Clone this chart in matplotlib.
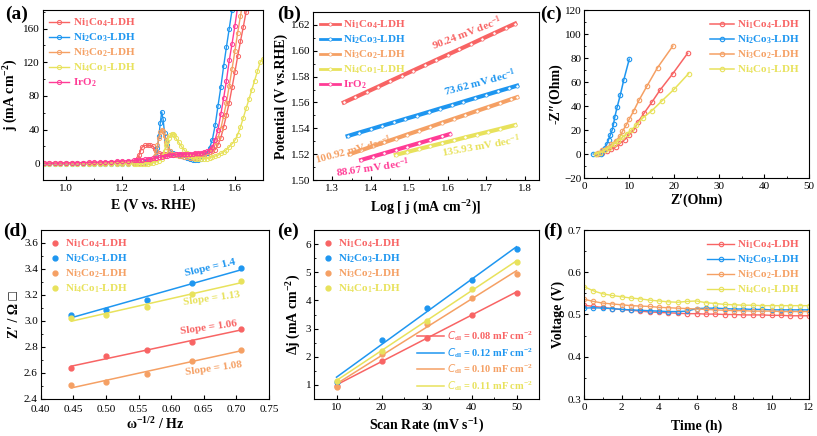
import matplotlib
matplotlib.use("Agg")
import matplotlib.pyplot as plt
import numpy as np
from matplotlib.ticker import MultipleLocator

plt.rcParams.update({
    "font.family": ["Liberation Serif", "DejaVu Sans"],
    "font.size": 8,
    "mathtext.default": "regular",
    "xtick.direction": "in",
    "ytick.direction": "in",
    "xtick.major.size": 3,
    "ytick.major.size": 3,
    "xtick.minor.size": 1.6,
    "ytick.minor.size": 1.6,
    "axes.linewidth": 0.8,
})

RED = "#F86464"
BLUE = "#1E96F0"
ORANGE = "#F5A064"
YELLOW = "#E8E25C"
PINK = "#FF3C96"

names4 = ["Ni$_1$Co$_4$-LDH", "Ni$_2$Co$_3$-LDH", "Ni$_3$Co$_2$-LDH", "Ni$_4$Co$_1$-LDH"]
colors4 = [RED, BLUE, ORANGE, YELLOW]

# ---- (a) LSV curves ----
flat_E = [0.92, 0.94, 0.96, 0.98, 1.00, 1.02, 1.04, 1.06, 1.08, 1.10, 1.12, 1.14, 1.16, 1.18, 1.20, 1.22, 1.24]

E_red = flat_E + [1.25, 1.255, 1.26, 1.265, 1.27, 1.28, 1.29, 1.30, 1.31, 1.315, 1.32, 1.33, 1.34, 1.35, 1.36,
                  1.37, 1.38, 1.39, 1.40, 1.41, 1.42, 1.43, 1.44, 1.45, 1.46, 1.47, 1.48, 1.49, 1.50, 1.51, 1.52,
                  1.53, 1.54, 1.55, 1.56, 1.57, 1.58, 1.59, 1.60, 1.61, 1.62, 1.63, 1.64, 1.65]
j_red = [0.2, 0.2, 0.3, 0.3, 0.3, 0.4, 0.4, 0.5, 0.5, 0.6, 0.6, 0.7, 0.8, 0.9, 1.0, 1.2, 1.6,
         3, 6, 10, 15, 19, 21, 21, 21, 20, 17, 14, 12, 11, 10.8, 10.5,
         10.3, 10.2, 10, 10, 10, 10, 10, 10, 10.2, 10.5, 10.8, 11, 11.5, 12, 13, 14.5,
         16, 22, 30, 43, 57, 72, 90, 108, 127, 145, 162, 180, 198]

E_blue = flat_E + [1.25, 1.26, 1.27, 1.28, 1.29, 1.30, 1.31, 1.32, 1.325, 1.33, 1.335, 1.34, 1.345, 1.35, 1.355,
                   1.36, 1.37, 1.38, 1.39, 1.40, 1.41, 1.42, 1.43, 1.44, 1.45, 1.46, 1.47, 1.48, 1.49, 1.50,
                   1.51, 1.52, 1.53, 1.54, 1.55, 1.56, 1.57, 1.58, 1.59, 1.60]
j_blue = [-1.5, -1.5, -1.4, -1.4, -1.3, -1.3, -1.2, -1.2, -1.1, -1.0, -1.0, -0.9, -0.8, -0.7, -0.6, -0.4, -0.2,
          0.0, 0.3, 0.6, 1.0, 1.5, 2.5, 4, 9, 18, 32, 48, 61, 52, 36, 27,
          21, 15, 12, 10.5, 9.5, 8.5, 7.5, 6.5, 5, 4, 3.5, 3.5, 5, 8, 12,
          18, 28, 45, 68, 90, 115, 138, 160, 182, 205]

E_orange = flat_E + [1.25, 1.26, 1.27, 1.28, 1.29, 1.30, 1.31, 1.315, 1.32, 1.325, 1.33, 1.335, 1.34, 1.345, 1.35,
                     1.355, 1.36, 1.37, 1.38, 1.39, 1.40, 1.41, 1.42, 1.43, 1.44, 1.45, 1.46, 1.47, 1.48, 1.49,
                     1.50, 1.51, 1.52, 1.53, 1.54, 1.55, 1.56, 1.57, 1.58, 1.59, 1.60, 1.61, 1.62, 1.63]
j_orange = [0.0, 0.0, 0.0, 0.0, 0.0, 0.0, 0.1, 0.1, 0.1, 0.1, 0.1, 0.2, 0.2, 0.2, 0.2, 0.2, 0.2,
            0.3, 0.4, 0.5, 0.6, 0.8, 1.2, 4, 8, 14, 22, 30, 37, 40, 38, 32,
            25, 19, 14, 11, 10, 9, 8.2, 7.5, 7, 6.5, 6.2, 6, 6.2, 7, 8.5,
            10, 13, 17, 22, 30, 41, 56, 72, 92, 112, 133, 155, 175, 195]

E_yellow = flat_E + [1.25, 1.26, 1.27, 1.28, 1.29, 1.30, 1.31, 1.32, 1.33, 1.34, 1.345, 1.35, 1.355, 1.36, 1.365,
                     1.37, 1.375, 1.38, 1.385, 1.39, 1.40, 1.41, 1.42, 1.43, 1.44, 1.45, 1.46, 1.47, 1.48, 1.49,
                     1.50, 1.51, 1.52, 1.53, 1.54, 1.55, 1.56, 1.57, 1.58, 1.59, 1.60, 1.61, 1.62, 1.63, 1.64,
                     1.65, 1.66, 1.67, 1.68, 1.69, 1.70]
j_yellow = [-1.0, -1.0, -1.0, -1.0, -1.0, -1.0, -1.0, -1.0, -1.0, -1.0, -1.0, -1.0, -1.0, -1.0, -1.0, -1.0, -1.0,
            -1.0, -1.0, -1.0, -0.8, -0.6, -0.3, 0.5, 1.5, 3, 5, 9, 15, 21, 26, 30,
            33, 35, 34.5, 33, 30, 25, 20, 15.5, 12, 9, 7, 5.5, 4.5, 4.5, 5,
            5.5, 6.5, 7.5, 8.5, 9.5, 11.5, 13.5, 16, 19.3, 23, 27, 34, 43, 54, 65,
            76, 87, 98, 109, 120, 124]

E_pink = flat_E + [1.25, 1.26, 1.27, 1.28, 1.29, 1.30, 1.31, 1.32, 1.33, 1.34, 1.35, 1.36, 1.37, 1.38, 1.39,
                   1.40, 1.41, 1.42, 1.43, 1.44, 1.45, 1.46, 1.47, 1.48, 1.49, 1.50, 1.51, 1.52, 1.53, 1.54,
                   1.55, 1.56, 1.57, 1.58, 1.59, 1.60, 1.61]
j_pink = [0.0, 0.0, 0.1, 0.2, 0.3, 0.4, 0.5, 0.7, 0.9, 1.1, 1.3, 1.6, 1.9, 2.2, 2.6, 3.0, 3.5,
          3.7, 4.0, 4.3, 4.6, 5.0, 5.4, 5.9, 6.4, 7.0, 7.7, 8.4, 9.0, 9.5, 10.0, 10.3,
          10.5, 10.7, 10.9, 11.0, 11.1, 11.3, 11.5, 11.8, 12.2, 12.8, 14, 16, 19, 28, 40,
          58, 77, 98, 122, 142, 163, 186]

# ---- (b) Tafel ----
tafel_x_red = [1.33, 1.36, 1.39, 1.42, 1.45, 1.48, 1.51, 1.54, 1.57, 1.60, 1.63, 1.66, 1.69, 1.72, 1.75, 1.775]
tafel_y_red = [1.5600, 1.5641, 1.5682, 1.5723, 1.5765, 1.5806, 1.5847, 1.5888, 1.5929, 1.5970, 1.6011,
               1.6052, 1.6094, 1.6135, 1.6176, 1.6210]
tafel_x_blue = [1.34, 1.37, 1.40, 1.43, 1.46, 1.49, 1.52, 1.55, 1.58, 1.61, 1.64, 1.67, 1.70, 1.73, 1.76, 1.78]
tafel_y_blue = [1.5340, 1.5367, 1.5393, 1.5420, 1.5446, 1.5473, 1.5499, 1.5526, 1.5553, 1.5579, 1.5606,
                1.5633, 1.5659, 1.5686, 1.5712, 1.5730]
tafel_x_orange = [1.345, 1.375, 1.405, 1.435, 1.465, 1.495, 1.525, 1.555, 1.585, 1.615, 1.645, 1.675,
                  1.705, 1.735, 1.765, 1.78]
tafel_y_orange = [1.5200, 1.5230, 1.5261, 1.5291, 1.5321, 1.5352, 1.5382, 1.5412, 1.5443, 1.5473, 1.5503,
                  1.5534, 1.5564, 1.5594, 1.5625, 1.5640]
tafel_x_yellow = [1.465, 1.495, 1.525, 1.555, 1.585, 1.615, 1.645, 1.675, 1.705, 1.735, 1.775]
tafel_y_yellow = [1.5195, 1.5217, 1.5240, 1.5262, 1.5284, 1.5306, 1.5329, 1.5351, 1.5373, 1.5395, 1.5425]
tafel_x_pink = [1.375, 1.405, 1.435, 1.465, 1.495, 1.525, 1.555, 1.585, 1.605]
tafel_y_pink = [1.5155, 1.5181, 1.5207, 1.5233, 1.5259, 1.5285, 1.5311, 1.5337, 1.5355]

# ---- (c) Nyquist ----
zr_red = [3, 4, 5, 6, 7, 8, 9, 10, 11, 12, 13.3, 15, 16.8, 19.7, 23]
zi_red = [0, 1, 2.5, 4, 6, 9, 12, 16, 20, 27, 34, 43, 53, 67, 84]
zr_blue = [2, 3.8, 4.2, 4.6, 5.0, 5.4, 5.8, 6.2, 6.5, 6.8, 7.3, 8.0, 8.8, 10]
zi_blue = [0, 0, 3, 5, 8, 12, 16, 20, 25, 31, 39, 49, 62, 79]
zr_orange = [2.5, 3, 4, 5, 6, 7, 8, 8.5, 9.3, 10, 11, 12.2, 14, 16.3, 19.7]
zi_orange = [0, 1, 3, 5, 8, 11, 15, 19, 24, 29, 36, 45, 57, 72, 90]
zr_yellow = [2.5, 3.5, 4.5, 5.5, 6.5, 7.5, 8.5, 9.5, 10.5, 11.5, 13, 15, 17.2, 20, 23.2]
zi_yellow = [0, 1, 3, 5, 8, 11, 14, 17, 20, 24, 30, 36, 44, 54, 67]

# ---- (d) Z' vs w^-1/2 ----
w_inv = [0.447, 0.500, 0.5625, 0.632, 0.707]
zd_red = [2.64, 2.73, 2.775, 2.84, 2.935]
zd_blue = [3.05, 3.085, 3.165, 3.29, 3.405]
zd_orange = [2.505, 2.53, 2.595, 2.69, 2.78]
zd_yellow = [3.02, 3.045, 3.11, 3.21, 3.305]
slope_labels = ["Slope = 1.06", "Slope = 1.4", "Slope = 1.08", "Slope = 1.13"]

# ---- (e) Cdl ----
scan_rate = [10, 20, 30, 40, 50]
dj_red = [0.97, 1.85, 2.68, 3.48, 4.28]
dj_blue = [1.10, 2.58, 3.73, 4.72, 5.82]
dj_orange = [0.93, 2.10, 3.15, 4.10, 4.95]
dj_yellow = [1.15, 2.20, 3.28, 4.42, 5.35]
cdl_labels = ["0.08", "0.12", "0.10", "0.11"]

# ---- (f) stability ----
t_h = [0, 0.5, 1, 1.5, 2, 2.5, 3, 3.5, 4, 4.5, 5, 5.5, 6, 6.5, 7, 7.5, 8, 8.5, 9, 9.5, 10, 10.5, 11, 11.5, 12]
v_red = [0.522, 0.519, 0.517, 0.514, 0.512, 0.510, 0.508, 0.506, 0.505, 0.504, 0.503, 0.502, 0.502, 0.501,
         0.501, 0.500, 0.500, 0.499, 0.499, 0.499, 0.498, 0.498, 0.497, 0.497, 0.497]
v_blue = [0.515, 0.516, 0.515, 0.514, 0.512, 0.511, 0.510, 0.509, 0.508, 0.507, 0.507, 0.508, 0.514, 0.515,
          0.515, 0.514, 0.513, 0.513, 0.512, 0.512, 0.511, 0.511, 0.511, 0.511, 0.511]
v_orange = [0.536, 0.531, 0.527, 0.525, 0.523, 0.521, 0.520, 0.519, 0.517, 0.516, 0.515, 0.514, 0.513, 0.512,
            0.511, 0.510, 0.509, 0.509, 0.508, 0.508, 0.508, 0.507, 0.507, 0.507, 0.507]
v_yellow = [0.566, 0.556, 0.549, 0.545, 0.542, 0.539, 0.537, 0.534, 0.532, 0.530, 0.529, 0.531, 0.532, 0.528,
            0.526, 0.524, 0.523, 0.522, 0.522, 0.521, 0.521, 0.521, 0.521, 0.521, 0.521]

W, H = 817, 436
fig = plt.figure(figsize=(W / 100, H / 100), dpi=100)


def rect(l, t, r, b):
    return [l / W, 1 - b / H, (r - l) / W, (b - t) / H]


def style(ax, xmaj, xmin, ymaj, ymin):
    ax.xaxis.set_major_locator(MultipleLocator(xmaj))
    ax.yaxis.set_major_locator(MultipleLocator(ymaj))
    if xmin:
        ax.xaxis.set_minor_locator(MultipleLocator(xmin))
    if ymin:
        ax.yaxis.set_minor_locator(MultipleLocator(ymin))
    ax.tick_params(labelsize=8, pad=2)
    ax.tick_params(axis="x", pad=3)


def color_legend(leg, colors):
    for txt, c in zip(leg.get_texts(), colors):
        txt.set_color(c)
        txt.set_fontweight("bold")


lab = dict(fontsize=10, fontweight="bold")
mk = dict(marker="o", ms=3, mfc="none", mew=0.7, lw=1)
leg_kw = dict(frameon=False, numpoints=1, fontsize=8, handletextpad=0.3, labelspacing=0.22)

# (a)
ax = fig.add_axes(rect(42.7, 10, 263, 180))
series_a = [(E_red, j_red, RED), (E_blue, j_blue, BLUE), (E_orange, j_orange, ORANGE),
            (E_yellow, j_yellow, YELLOW), (E_pink, j_pink, PINK)]
names5 = names4 + ["IrO$_2$"]
for (e, j, c), n in zip(series_a, names5):
    ax.plot(e, j, color=c, label=n, **mk)
ax.set_xlim(0.917, 1.70)
ax.set_ylim(-20, 182)
style(ax, 0.2, 0.1, 40, 20)
ax.set_xlabel("E (V vs. RHE)", **lab)
ax.set_ylabel("j (mA cm$^{-2}$)", labelpad=2, **lab)
leg = ax.legend(loc="upper left", handlelength=1.8, borderaxespad=0.2, **leg_kw)
color_legend(leg, [RED, BLUE, ORANGE, YELLOW, PINK])

# (b)
ax = fig.add_axes(rect(313, 12, 539, 180))
series_b = [(tafel_x_red, tafel_y_red, RED), (tafel_x_blue, tafel_y_blue, BLUE),
            (tafel_x_orange, tafel_y_orange, ORANGE), (tafel_x_yellow, tafel_y_yellow, YELLOW),
            (tafel_x_pink, tafel_y_pink, PINK)]
for (x, y, c), n in zip(series_b, names5):
    ax.plot(x, y, color=c, lw=3, marker="o", ms=2.4, mfc="white", mec=c, mew=0.5, label=n)
ax.set_xlim(1.25, 1.837)
ax.set_ylim(1.50, 1.63)
style(ax, 0.1, 0.05, 0.02, 0.01)
ax.set_xlabel("Log [ j (mA cm$^{-2}$)]", **lab)
ax.set_ylabel("Potential (V vs.RHE)", labelpad=2, **lab)
leg = ax.legend(loc="upper left", handlelength=1.8, borderaxespad=0.2, **leg_kw)
for h in leg.legend_handles:
    h.set_linewidth(2)
color_legend(leg, [RED, BLUE, ORANGE, YELLOW, PINK])
tafel_notes = [("90.24 mV dec$^{-1}$", 1.650, 1.6135, 21, RED),
               ("73.62 mV dec$^{-1}$", 1.684, 1.5755, 15, BLUE),
               ("100.92 mV dec$^{-1}$", 1.355, 1.5235, 15, ORANGE),
               ("135.93 mV dec$^{-1}$", 1.686, 1.5265, 10, YELLOW),
               ("88.67 mV dec$^{-1}$", 1.405, 1.5095, 8, PINK)]
for t, x, y, r, c in tafel_notes:
    ax.text(x, y, t, color=c, fontsize=8, fontweight="bold", rotation=r, ha="center", va="center")

# (c)
ax = fig.add_axes(rect(584.3, 10, 809, 178))
series_c = [(zr_red, zi_red, RED), (zr_blue, zi_blue, BLUE), (zr_orange, zi_orange, ORANGE),
            (zr_yellow, zi_yellow, YELLOW)]
for (x, y, c), n in zip(series_c, names4):
    ax.plot(x, y, color=c, label=n, marker="o", ms=3.2, mfc="none", mew=0.8, lw=1.1)
ax.set_xlim(0, 50)
ax.set_ylim(-20, 120)
style(ax, 10, 5, 20, 10)
ax.set_xlabel("Z\u2032(Ohm)", labelpad=2, **lab)
ax.set_ylabel("-Z\u2033(Ohm)", labelpad=1, **lab)
leg = ax.legend(loc="upper right", handlelength=2.2, borderaxespad=0.4, **leg_kw)
color_legend(leg, colors4)

# (d)
ax = fig.add_axes(rect(40.7, 230, 269, 399))
series_d = [zd_red, zd_blue, zd_orange, zd_yellow]
for y, c, n in zip(series_d, colors4, names4):
    ax.plot(w_inv, y, "o", color=c, ms=3.5, label=n)
    k, b0 = np.polyfit(w_inv, y, 1)
    xs = np.array([w_inv[0], w_inv[-1]])
    ax.plot(xs, k * xs + b0, color=c, lw=1.1)
slope_pos = [(0.658, 2.95, 8), (0.6595, 3.406, 13), (0.665, 2.632, 8), (0.6625, 3.174, 8)]
for t, (x, y, r), c in zip(slope_labels, slope_pos, colors4):
    ax.text(x, y, t, color=c, fontsize=8, fontweight="bold", rotation=r, ha="center", va="center")
ax.set_xlim(0.40, 0.75)
ax.set_ylim(2.4, 3.7)
style(ax, 0.05, None, 0.2, 0.1)
ax.tick_params(axis="x", pad=4)
ax.set_xlabel("\u03c9$^{-1/2}$ / Hz", labelpad=2, **lab)
ax.set_ylabel("Z\u2032 / \u03a9 \u25a1", labelpad=2, **lab)
leg = ax.legend(loc="upper left", handlelength=1.2, borderaxespad=0.3, **leg_kw)
color_legend(leg, colors4)

# (e)
ax = fig.add_axes(rect(314, 230, 539, 399))
series_e = [dj_red, dj_blue, dj_orange, dj_yellow]
pts, fits = [], []
for y, c, n, cl in zip(series_e, colors4, names4, cdl_labels):
    p, = ax.plot(scan_rate, y, "o", color=c, ms=3.5, label=n)
    k, b0 = np.polyfit(scan_rate, y, 1)
    xs = np.array([scan_rate[0], scan_rate[-1]])
    f, = ax.plot(xs, k * xs + b0, color=c, lw=1.1,
                 label="$\\mathit{C}_{dl}$ = " + cl + " mF cm$^{-2}$")
    pts.append(p)
    fits.append(f)
ax.set_xlim(5, 55)
ax.set_ylim(0.5, 6.5)
style(ax, 10, 5, 1, 0.5)
ax.set_xlabel("Scan Rate (mV s$^{-1}$)", labelpad=3, **lab)
ax.set_ylabel("\u0394j (mA cm$^{-2}$)", labelpad=2, **lab)
leg1 = ax.legend(handles=pts, loc="upper left", handlelength=1.2, borderaxespad=0.3, **leg_kw)
color_legend(leg1, colors4)
ax.add_artist(leg1)
leg2 = ax.legend(handles=fits, loc="lower right", frameon=False, fontsize=7.5, handlelength=2.6,
                 handletextpad=0.3, labelspacing=0.25, borderaxespad=0.2)
color_legend(leg2, colors4)

# (f)
ax = fig.add_axes(rect(584, 230, 809, 399))
series_f = [v_red, v_blue, v_orange, v_yellow]
for y, c, n in zip(series_f, colors4, names4):
    ax.plot(t_h, y, color=c, label=n, marker="o", ms=3.2, mfc="none", mew=0.8, lw=1)
ax.set_xlim(0, 12)
ax.set_ylim(0.3, 0.7)
style(ax, 2, 1, 0.1, 0.05)
ax.set_xlabel("Time (h)", labelpad=5, **lab)
ax.set_ylabel("Voltage (V)", labelpad=2, **lab)
leg = ax.legend(loc="upper right", handlelength=2.4, borderaxespad=0.4, **leg_kw)
color_legend(leg, colors4)

# panel letters
for letter, x, y in [("a", 5, 14), ("b", 277, 14), ("c", 540, 14),
                     ("d", 3, 231), ("e", 277, 231), ("f", 543, 231)]:
    fig.text(x / W, 1 - y / H, "(" + letter + ")", fontsize=14, fontweight="bold", va="center", ha="left")

fig.savefig("out.png", dpi=100)
